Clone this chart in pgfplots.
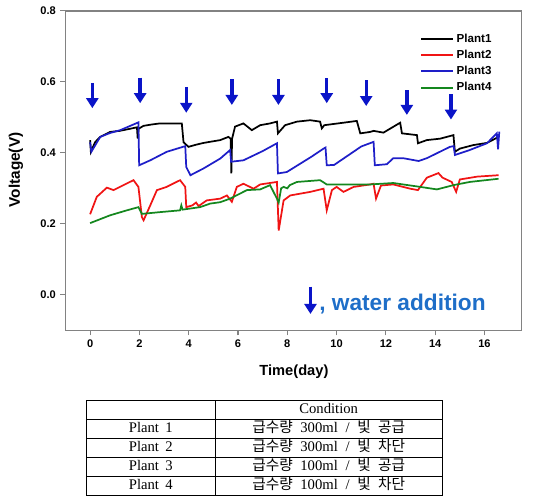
\documentclass[border=0pt]{standalone}
\usepackage{pgfplots}
\pgfplotsset{compat=1.18}
\usepackage{fontspec}
\usepackage{array}
\usetikzlibrary{arrows.meta}
\setmainfont{Liberation Sans}
\newfontfamily\krfont{Noto Sans CJK KR}
\newfontfamily\seriffont{Liberation Serif}
\definecolor{arrowblue}{RGB}{10,20,200}
\definecolor{textblue}{RGB}{30,110,200}
\definecolor{pgreen}{RGB}{20,135,30}
\definecolor{pblue}{RGB}{30,30,200}
\definecolor{pred}{RGB}{240,20,20}
\definecolor{framegray}{RGB}{130,130,130}

\pgfplotstableread{
x y v
0.09 0.597 -0.071
2.03 0.612 -0.072
3.90 0.586 -0.073
5.75 0.607 -0.072
7.64 0.607 -0.072
9.60 0.610 -0.070
11.20 0.604 -0.072
12.85 0.577 -0.070
14.64 0.565 -0.071
8.94 0.023 -0.077
}\arrowtable

\begin{document}
\begin{tikzpicture}
\path[use as bounding box] (0,0) rectangle (401.25pt,376.5pt);
\begin{axis}[
  at={(49.1pt,128.8pt)}, anchor=south west,
  scale only axis, width=342pt, height=239.5pt,
  xmin=-1, xmax=17.5, ymin=-0.1, ymax=0.8,
  xtick={0,2,...,16}, ytick={0,0.2,0.4,0.6,0.8},
  xtick pos=left, ytick pos=left,
  tick align=outside, major tick length=3.75pt,
  tick style={framegray, line width=0.8pt},
  axis line style={framegray, line width=1.1pt},
  ticklabel style={font=\fontsize{8.3}{9}\selectfont\bfseries},
  /pgf/number format/assume math mode=true,
  yticklabel style={/pgf/number format/.cd, fixed, fixed zerofill, precision=1},
  xlabel={Time(day)}, ylabel={Voltage(V)},
  every axis x label/.style={at={(axis description cs:0.501,-0.131)}, anchor=center,
    font=\fontsize{11}{12}\selectfont\bfseries},
  every axis y label/.style={at={(axis description cs:-0.1086,0.502)}, rotate=90, anchor=center,
    font=\fontsize{11.5}{12}\selectfont\bfseries},
  legend style={draw=none, fill=none, at={(0.777,0.937)}, anchor=north west,
    font=\fontsize{8.7}{10}\selectfont\bfseries, row sep=0.3pt, inner sep=0pt},
  legend cell align=left,
  legend image code/.code={\draw[#1, line width=1.5pt] (0pt,0pt) -- (24pt,0pt);},
]
\addplot[black, line width=1.3pt] coordinates {
(0,0.436) (0.03,0.403) (0.2,0.43) (0.41,0.445) (0.81,0.459) (1.2,0.462) (1.49,0.466) (1.9,0.472) (1.93,0.44) (1.97,0.468) (2.16,0.476) (2.5,0.48) (2.84,0.483) (3.72,0.483) (3.79,0.43) (3.99,0.417) (4.3,0.423) (4.6,0.428) (5.28,0.436) (5.61,0.445) (5.7,0.44) (5.73,0.342) (5.76,0.44) (5.88,0.474) (6.22,0.483) (6.56,0.464) (6.9,0.478) (7.3,0.483) (7.58,0.488) (7.62,0.455) (7.91,0.478) (8.39,0.488) (8.93,0.492) (9.33,0.488) (9.4,0.469) (9.5,0.478) (10.28,0.485) (10.82,0.49) (10.96,0.455) (11.36,0.459) (11.5,0.462) (11.9,0.457) (12.58,0.485) (12.65,0.455) (13.26,0.45) (13.3,0.427) (13.66,0.436) (14.2,0.44) (14.74,0.45) (14.8,0.403) (15.0,0.412) (15.55,0.422) (16.1,0.428) (16.57,0.445)
};
\addlegendentry{Plant1}
\addplot[pred, line width=1.3pt] coordinates {
(0,0.227) (0.27,0.276) (0.68,0.302) (0.95,0.295) (1.35,0.309) (1.76,0.323) (1.96,0.304) (2.1,0.219) (2.17,0.21) (2.44,0.252) (2.71,0.295) (3.1,0.304) (3.65,0.323) (3.86,0.304) (3.9,0.247) (4.15,0.252) (4.3,0.26) (4.4,0.25) (4.73,0.266) (5.28,0.271) (5.55,0.28) (5.75,0.262) (5.95,0.304) (6.22,0.313) (6.63,0.299) (6.9,0.311) (7.58,0.318) (7.65,0.181) (7.85,0.266) (8.12,0.28) (8.93,0.29) (9.47,0.299) (9.6,0.238) (9.81,0.295) (10.0,0.304) (10.28,0.29) (10.69,0.304) (11.36,0.311) (11.5,0.313) (11.6,0.271) (11.8,0.308) (12.3,0.311) (12.99,0.299) (13.3,0.295) (13.66,0.33) (14.13,0.343) (14.3,0.33) (14.67,0.318) (14.85,0.29) (15.0,0.325) (15.7,0.333) (16.57,0.337)
};
\addlegendentry{Plant2}
\addplot[pblue, line width=1.3pt] coordinates {
(0,0.43) (0.05,0.403) (0.41,0.445) (0.81,0.456) (1.22,0.464) (1.96,0.486) (1.99,0.365) (2.44,0.379) (3.11,0.403) (3.86,0.419) (3.9,0.36) (4.07,0.337) (4.6,0.356) (5.28,0.384) (5.68,0.408) (5.72,0.375) (6.22,0.379) (7.0,0.405) (7.58,0.427) (7.62,0.342) (7.98,0.346) (9.0,0.39) (9.47,0.412) (9.55,0.415) (9.6,0.365) (9.9,0.366) (11.0,0.418) (11.5,0.431) (11.55,0.365) (12.04,0.368) (12.3,0.385) (12.7,0.385) (13.33,0.377) (13.66,0.385) (14.6,0.417) (14.75,0.419) (14.8,0.394) (15.4,0.408) (16.1,0.427) (16.5,0.455) (16.55,0.41) (16.6,0.46)
};
\addlegendentry{Plant3}
\addplot[pgreen, line width=1.3pt] coordinates {
(0,0.202) (0.81,0.224) (1.49,0.238) (1.96,0.247) (2.1,0.228) (2.84,0.233) (3.65,0.238) (3.7,0.252) (3.75,0.24) (4.46,0.247) (4.87,0.257) (5.28,0.261) (5.68,0.271) (6.36,0.295) (6.9,0.297) (7.3,0.309) (7.58,0.271) (7.65,0.26) (7.75,0.3) (7.85,0.304) (8.0,0.3) (8.1,0.309) (8.39,0.318) (9.33,0.323) (9.6,0.311) (11.36,0.311) (12.3,0.315) (13.4,0.304) (14.07,0.297) (14.74,0.309) (15.4,0.318) (16.57,0.327)
};
\addlegendentry{Plant4}
\addplot[forget plot, arrowblue, line width=2.5pt, -{Triangle[length=7.5pt,width=9pt]},
  quiver={u=0, v=\thisrow{v}}] table[x=x, y=y] {\arrowtable};
\node[anchor=base west, text=textblue, font=\fontsize{17}{19}\selectfont\bfseries, inner sep=0pt]
  at (axis cs:9.29,-0.045) {, water addition};
\end{axis}
\node[anchor=north west, inner sep=0pt, font=\seriffont\fontsize{11}{13}\selectfont] at (64.5pt,77pt) {%
\renewcommand{\arraystretch}{1.07}\setlength{\tabcolsep}{0pt}%
\begin{tabular}{|>{\centering\arraybackslash}p{96pt}|>{\centering\arraybackslash}p{170pt}|}
\hline
 & Condition\\ \hline
Plant\hspace{2pt} 1 & {\krfont 급수량}\hspace{3pt} 300ml\hspace{3pt} /\hspace{3pt} {\krfont 빛\hspace{3pt} 공급}\\ \hline
Plant\hspace{2pt} 2 & {\krfont 급수량}\hspace{3pt} 300ml\hspace{3pt} /\hspace{3pt} {\krfont 빛\hspace{3pt} 차단}\\ \hline
Plant\hspace{2pt} 3 & {\krfont 급수량}\hspace{3pt} 100ml\hspace{3pt} /\hspace{3pt} {\krfont 빛\hspace{3pt} 공급}\\ \hline
Plant\hspace{2pt} 4 & {\krfont 급수량}\hspace{3pt} 100ml\hspace{3pt} /\hspace{3pt} {\krfont 빛\hspace{3pt} 차단}\\ \hline
\end{tabular}};
\end{tikzpicture}
\end{document}
